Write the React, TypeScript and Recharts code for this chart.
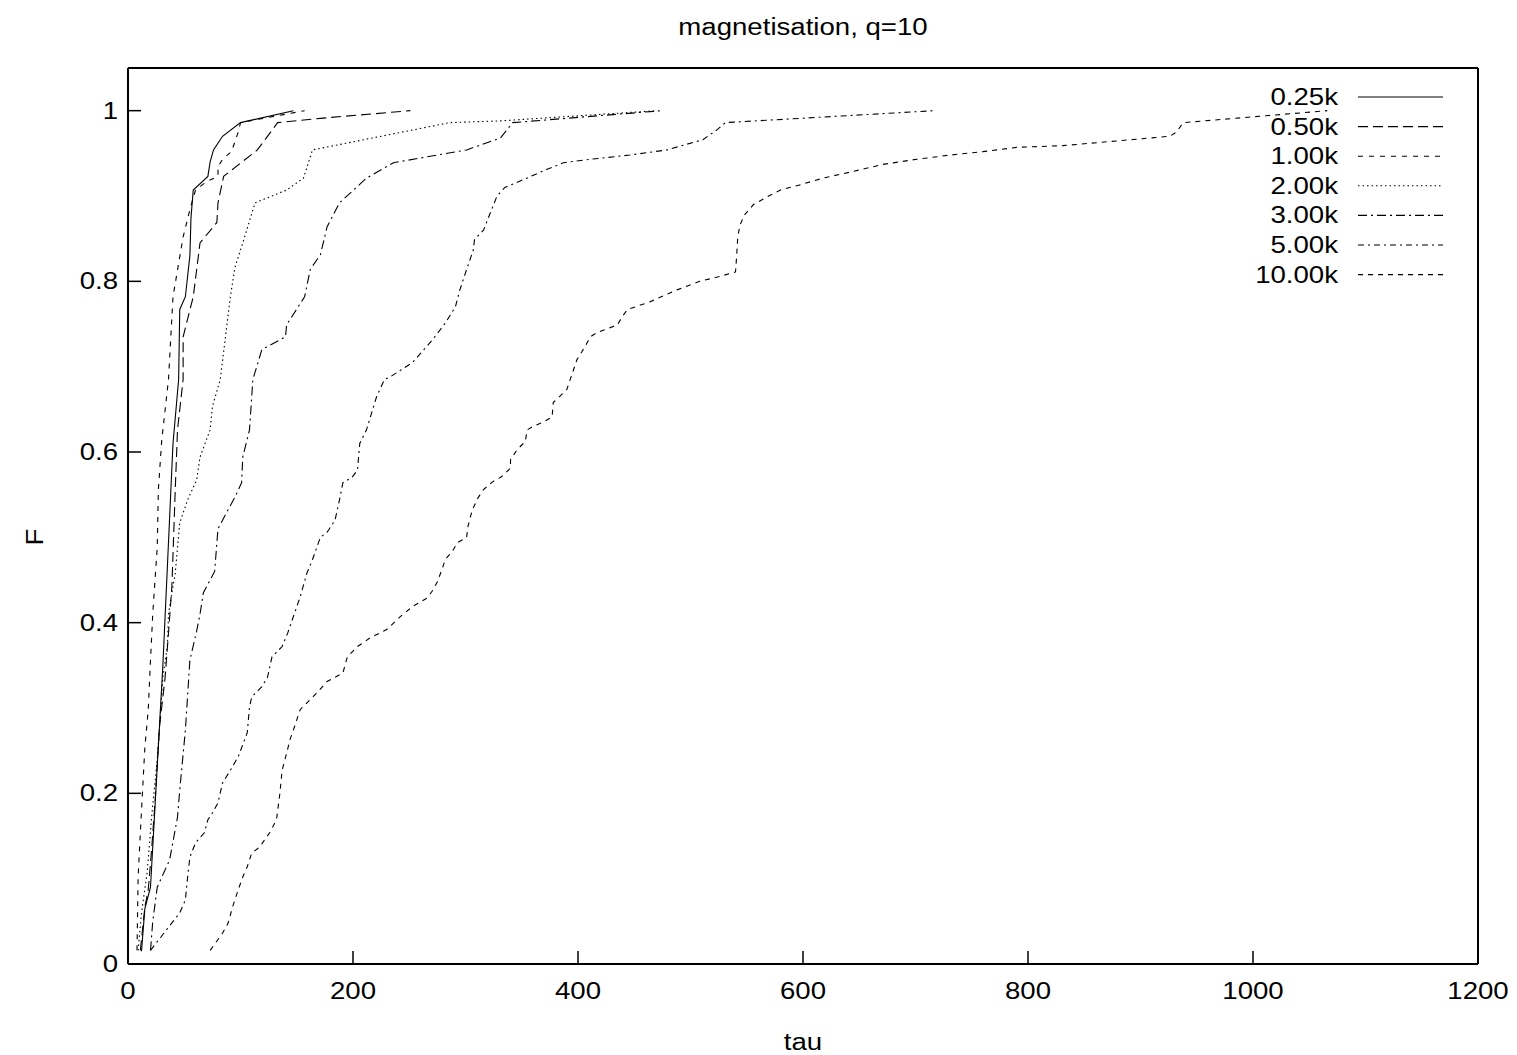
import { LineChart, Line, XAxis, YAxis, Legend } from "recharts";

const X_TICKS = [0, 200, 400, 600, 800, 1000, 1200];
const Y_TICKS = [0, 0.2, 0.4, 0.6, 0.8, 1];

// each point is [tau, F]
const S_025: [number, number][] = [
  [12, 0.015], [15, 0.065], [20, 0.09], [31, 0.35], [40, 0.61], [45, 0.685], [46, 0.767],
  [51, 0.782], [55, 0.83], [56, 0.875], [58, 0.907], [71, 0.923], [73, 0.94], [76, 0.954],
  [84, 0.97], [100, 0.986], [147, 1.0],
];
const S_050: [number, number][] = [
  [11, 0.016], [15, 0.067], [18, 0.087], [21, 0.134], [24, 0.189], [28, 0.278], [33, 0.336],
  [36, 0.388], [39, 0.442], [42, 0.556], [44, 0.626], [49, 0.685], [49, 0.735], [58, 0.782],
  [64, 0.845], [79, 0.869], [80, 0.892], [85, 0.923], [115, 0.954], [133, 0.986], [171, 0.991],
  [251, 1.0],
];
const S_100: [number, number][] = [
  [8, 0.016], [9, 0.102], [12, 0.18], [15, 0.254], [18, 0.298], [20, 0.356], [22, 0.41],
  [26, 0.489], [27, 0.556], [30, 0.614], [36, 0.685], [40, 0.782], [49, 0.852], [55, 0.884],
  [60, 0.907], [70, 0.917], [80, 0.923], [80, 0.934], [84, 0.943], [92, 0.952], [98, 0.975],
  [100, 0.986], [157, 1.0],
];
const S_200: [number, number][] = [
  [9, 0.016], [12, 0.06], [17, 0.107], [21, 0.172], [26, 0.24], [31, 0.336], [35, 0.372],
  [36, 0.41], [39, 0.435], [42, 0.458], [46, 0.517], [53, 0.544], [61, 0.567], [64, 0.594],
  [73, 0.626], [75, 0.653], [82, 0.685], [91, 0.782], [95, 0.816], [102, 0.845], [113, 0.892],
  [141, 0.907], [156, 0.921], [164, 0.954], [286, 0.986], [331, 0.988], [470, 1.0],
];
const S_300: [number, number][] = [
  [20, 0.016], [22, 0.05], [26, 0.09], [37, 0.122], [44, 0.172], [46, 0.204], [51, 0.274],
  [55, 0.356], [61, 0.39], [64, 0.41], [67, 0.435], [73, 0.45], [77, 0.46], [80, 0.51],
  [88, 0.53], [95, 0.547], [101, 0.564], [102, 0.594], [108, 0.626], [111, 0.685], [119, 0.72],
  [140, 0.735], [141, 0.749], [157, 0.782], [162, 0.814], [171, 0.831], [177, 0.864],
  [188, 0.892], [212, 0.921], [236, 0.939], [301, 0.954], [331, 0.968], [342, 0.986], [475, 1.0],
];
const S_500: [number, number][] = [
  [20, 0.016], [33, 0.038], [46, 0.06], [51, 0.075], [53, 0.102], [55, 0.125], [60, 0.142],
  [68, 0.154], [71, 0.169], [75, 0.177], [80, 0.189], [84, 0.212], [91, 0.227], [98, 0.243],
  [106, 0.271], [108, 0.301], [110, 0.313], [119, 0.325], [124, 0.336], [128, 0.36],
  [137, 0.372], [142, 0.388], [148, 0.411], [153, 0.43], [159, 0.458], [164, 0.474],
  [171, 0.5], [177, 0.506], [184, 0.52], [188, 0.544], [191, 0.564], [199, 0.57], [204, 0.579],
  [206, 0.61], [212, 0.626], [221, 0.665], [228, 0.685], [233, 0.688], [253, 0.705],
  [271, 0.732], [282, 0.751], [291, 0.77], [295, 0.79], [300, 0.81], [307, 0.837], [308, 0.849],
  [316, 0.86], [322, 0.88], [328, 0.9], [335, 0.91], [351, 0.919], [372, 0.931], [387, 0.939],
  [411, 0.943], [446, 0.948], [479, 0.954], [511, 0.966], [524, 0.978], [531, 0.986], [717, 1.0],
];
const S_1000: [number, number][] = [
  [73, 0.016], [84, 0.036], [89, 0.048], [93, 0.067], [98, 0.087], [102, 0.102], [106, 0.114],
  [110, 0.13], [117, 0.137], [126, 0.154], [132, 0.169], [135, 0.2], [137, 0.227], [141, 0.247],
  [144, 0.263], [148, 0.278], [153, 0.298], [162, 0.31], [168, 0.318], [177, 0.331], [191, 0.341],
  [195, 0.36], [204, 0.372], [215, 0.382], [230, 0.392], [242, 0.407], [253, 0.419], [266, 0.429],
  [271, 0.438], [275, 0.448], [279, 0.462], [282, 0.474], [288, 0.483], [293, 0.494], [301, 0.5],
  [302, 0.512], [306, 0.532], [311, 0.546], [316, 0.556], [324, 0.565], [332, 0.571], [340, 0.581],
  [340, 0.591], [346, 0.603], [353, 0.612], [355, 0.626], [360, 0.63], [369, 0.635], [377, 0.641],
  [378, 0.658], [390, 0.673], [399, 0.708], [406, 0.723], [411, 0.735], [417, 0.74], [435, 0.749],
  [439, 0.758], [444, 0.767], [464, 0.776], [488, 0.79], [508, 0.8], [524, 0.805], [540, 0.811],
  [541, 0.829], [542, 0.852], [544, 0.866], [548, 0.878], [556, 0.89], [568, 0.899], [580, 0.907],
  [597, 0.913], [618, 0.921], [642, 0.928], [671, 0.937], [701, 0.943], [731, 0.948], [760, 0.952],
  [790, 0.957], [831, 0.959], [926, 0.97], [932, 0.975], [938, 0.986], [1066, 1.0],
];

const NAMES = ["0.25k", "0.50k", "1.00k", "2.00k", "3.00k", "5.00k", "10.00k"];
const DASHES = ["", "10 5", "5 6", "1.5 3", "9 4 2 4", "6 4 2 4", "5 5"];
const SERIES = [S_025, S_050, S_100, S_200, S_300, S_500, S_1000];

const FONT = "'Liberation Sans', Arial, Helvetica, sans-serif";
const FS = 23;
const SX = 1.2;

function BottomTick(p: any) {
  const { x, y, payload } = p;
  return (
    <g>
      <line x1={x} y1={y} x2={x} y2={y - 13} stroke="#000" strokeWidth={1.5} />
      <text transform={`translate(${x},${y + 35}) scale(${SX},1)`} textAnchor="middle"
        fontSize={FS} fontFamily={FONT} fill="#000">{payload.value}</text>
    </g>
  );
}

function LeftTick(p: any) {
  const { x, y, payload } = p;
  return (
    <g>
      <line x1={x} y1={y} x2={x + 13} y2={y} stroke="#000" strokeWidth={1.5} />
      <text transform={`translate(${x - 10},${y + 8}) scale(${SX},1)`} textAnchor="end"
        fontSize={FS} fontFamily={FONT} fill="#000">{payload.value}</text>
    </g>
  );
}

function TopTick(p: any) {
  return <line x1={p.x} y1={p.y} x2={p.x} y2={p.y + 13} stroke="#000" strokeWidth={1.5} />;
}

function RightTick(p: any) {
  return <line x1={p.x} y1={p.y} x2={p.x - 13} y2={p.y} stroke="#000" strokeWidth={1.5} />;
}

function KeyBox() {
  return (
    <svg width={240} height={220} style={{ display: "block" }}>
      {NAMES.map((n, i) => {
        const cy = 17 + i * 29.6;
        return (
          <g key={n}>
            <text transform={`translate(108,${cy + 8}) scale(${SX},1)`} textAnchor="end"
              fontSize={FS} fontFamily={FONT} fill="#000">{n}</text>
            <line x1={128} y1={cy} x2={213} y2={cy} stroke="#000" strokeWidth={1.1}
              strokeDasharray={DASHES[i] || undefined} />
          </g>
        );
      })}
    </svg>
  );
}

const labelStyle: React.CSSProperties = {
  position: "absolute",
  fontFamily: FONT,
  fontSize: FS,
  color: "#000",
  whiteSpace: "nowrap",
  lineHeight: 1,
};

export default function App() {
  return (
    <div style={{ position: "absolute", left: 0, top: 0, width: 1517, height: 1055, background: "#fff" }}>
      <LineChart width={1517} height={1055} margin={{ top: 67, right: 38, bottom: 31, left: 28 }}>
        <XAxis xAxisId="b" type="number" dataKey="tau" domain={[0, 1200]} ticks={X_TICKS}
          interval={0} tickLine={false} tickSize={0} tickMargin={0} height={60}
          axisLine={{ stroke: "#000", strokeWidth: 2 }} tick={(p: any) => <BottomTick {...p} />} />
        <XAxis xAxisId="t" orientation="top" type="number" domain={[0, 1200]} ticks={X_TICKS}
          interval={0} tickLine={false} tickSize={0} tickMargin={0} height={1}
          axisLine={{ stroke: "#000", strokeWidth: 2 }} tick={(p: any) => <TopTick {...p} />} />
        <YAxis yAxisId="l" type="number" domain={[0, 1.05]} ticks={Y_TICKS} interval={0}
          tickLine={false} tickSize={0} tickMargin={0} width={100}
          axisLine={{ stroke: "#000", strokeWidth: 2 }} tick={(p: any) => <LeftTick {...p} />} />
        <YAxis yAxisId="r" orientation="right" type="number" domain={[0, 1.05]} ticks={Y_TICKS}
          interval={0} tickLine={false} tickSize={0} tickMargin={0} width={1}
          axisLine={{ stroke: "#000", strokeWidth: 2 }} tick={(p: any) => <RightTick {...p} />} />
        <Legend layout="horizontal" verticalAlign="middle" align="center"
          wrapperStyle={{ position: "absolute", left: 1230, top: 80, width: 240, height: 220 }}
          content={() => <KeyBox />} />
        {SERIES.map((s, i) => (
          <Line key={NAMES[i]} xAxisId="b" yAxisId="l" name={NAMES[i]} type="linear"
            data={s.map(([tau, F]) => ({ tau, F }))} dataKey="F" stroke="#000" strokeWidth={1.1}
            strokeDasharray={DASHES[i] || undefined} dot={false} activeDot={false}
            isAnimationActive={false} />
        ))}
      </LineChart>
      <div style={{ ...labelStyle, left: 803, top: 16, transform: `translateX(-50%) scaleX(${SX})` }}>
        magnetisation, q=10
      </div>
      <div style={{ ...labelStyle, left: 803, top: 1031, transform: `translateX(-50%) scaleX(${SX})` }}>
        tau
      </div>
      <div style={{ ...labelStyle, left: 35, top: 537, transform: `translate(-50%,-50%) rotate(-90deg) scaleX(${SX})` }}>
        F
      </div>
    </div>
  );
}
